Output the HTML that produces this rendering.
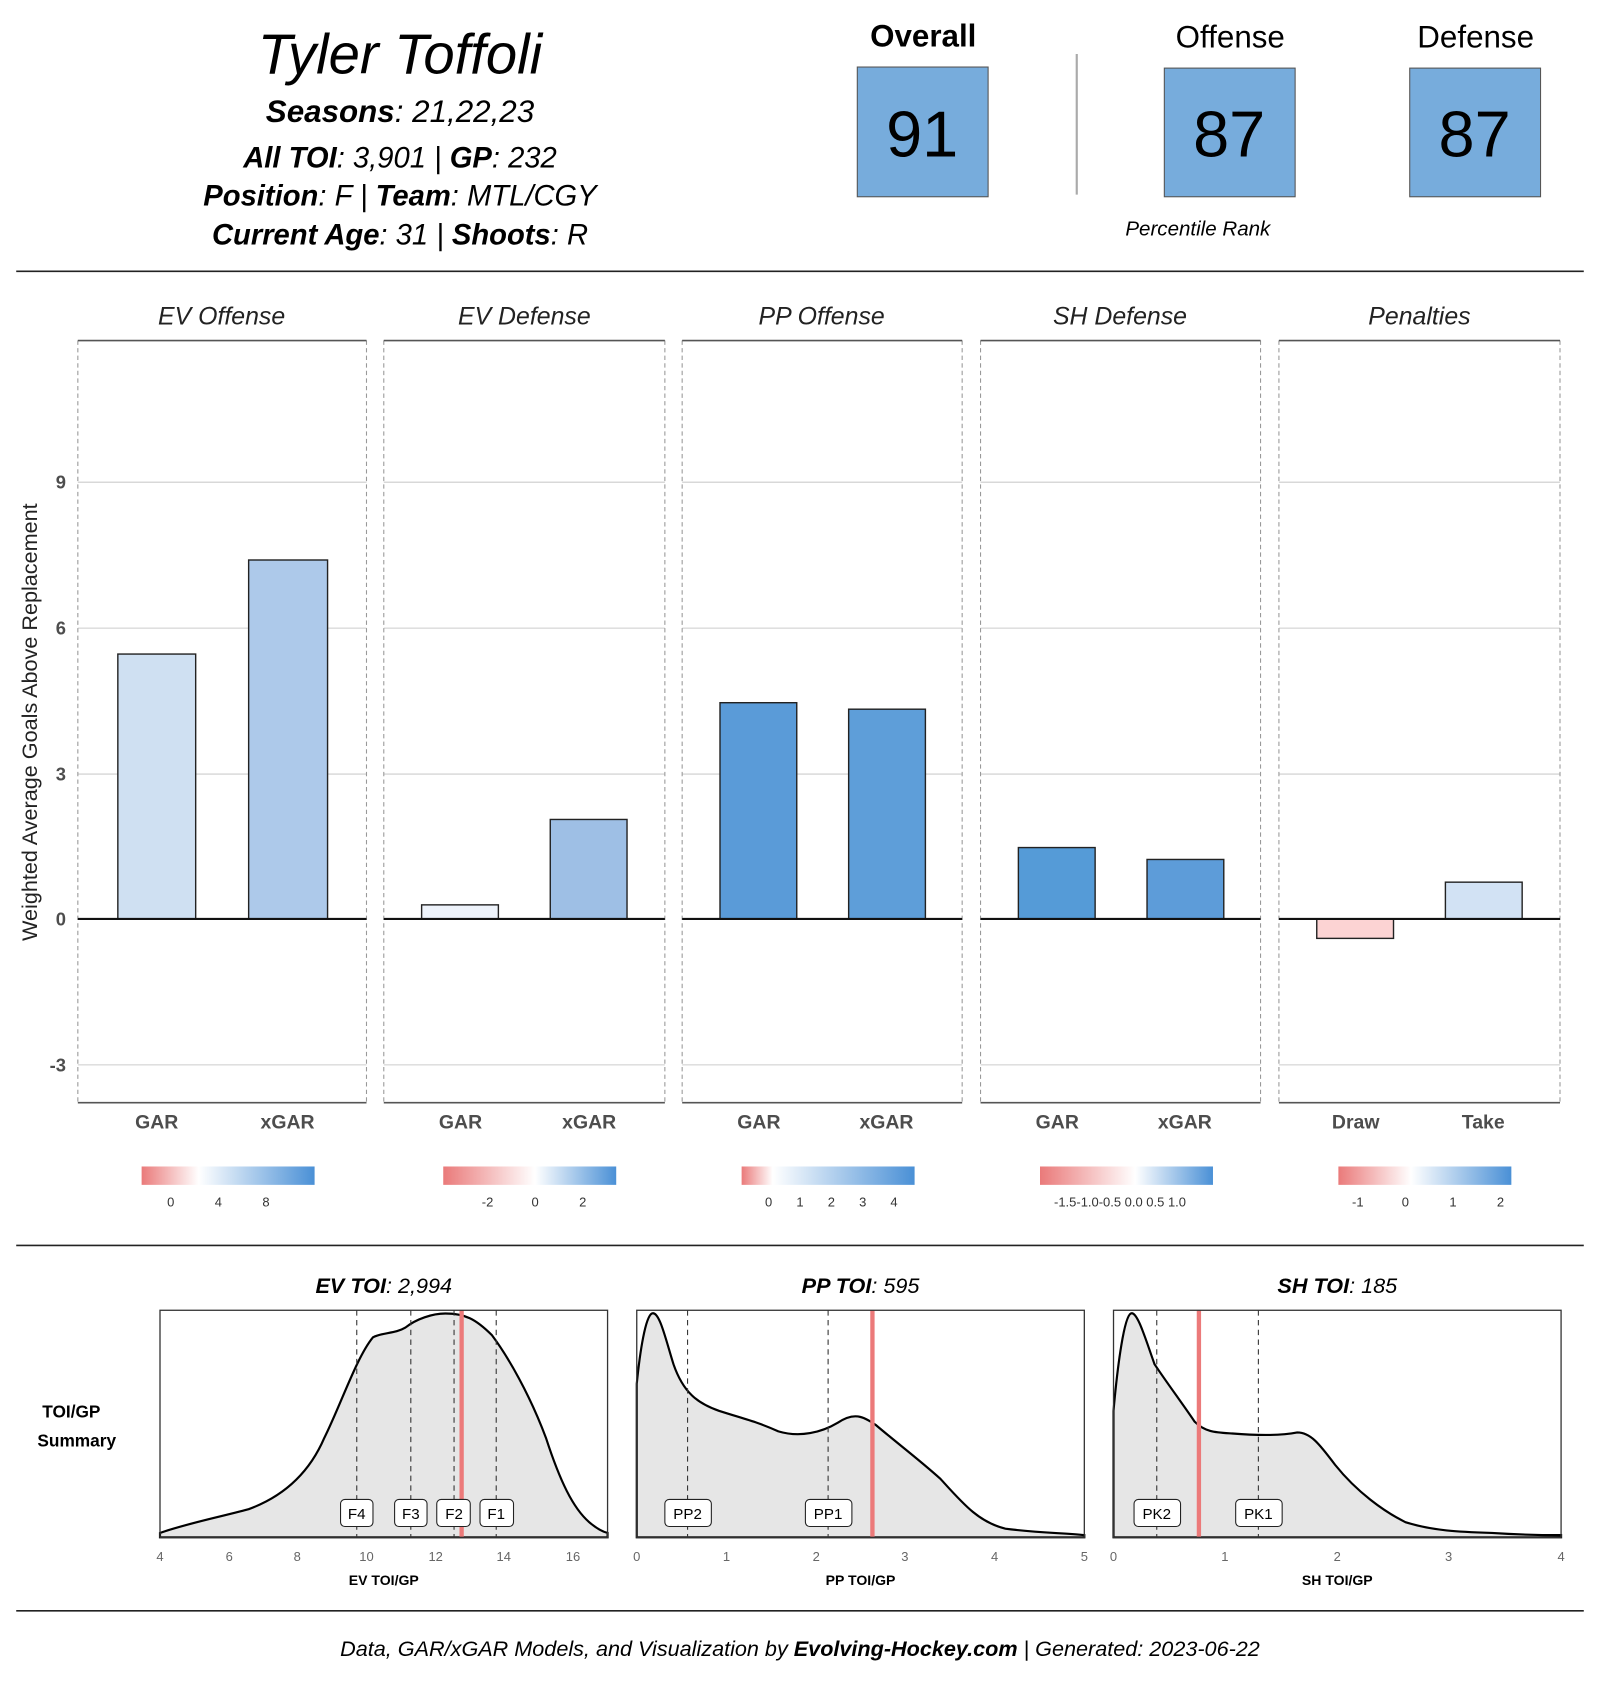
<!DOCTYPE html>
<html><head><meta charset="utf-8"><style>
html,body{margin:0;padding:0;background:#fff;}
svg{display:block;}
text{font-family:"Liberation Sans",sans-serif;}
.t{font-style:italic;}
.b{font-weight:bold;}
.yl{font-size:17px;font-weight:bold;fill:#4d4d4d;text-anchor:end;}
.xl{font-size:18px;font-weight:bold;fill:#4d4d4d;text-anchor:middle;}
.cb{font-size:12px;fill:#333;text-anchor:middle;}
.st{font-size:23px;font-style:italic;text-anchor:middle;fill:#222;}
.dx{font-size:12px;fill:#666;text-anchor:middle;}
.lab{font-size:14px;text-anchor:middle;}
</style></head><body>
<svg width="1600" height="1700" viewBox="0 0 1480 1572.5" xmlns="http://www.w3.org/2000/svg">
<defs>
<linearGradient id="g1"><stop offset="0" stop-color="#ea7a7a"/><stop offset="0.33" stop-color="#fff"/><stop offset="1" stop-color="#4a90d6"/></linearGradient>
<linearGradient id="g2"><stop offset="0" stop-color="#ea7a7a"/><stop offset="0.53" stop-color="#fff"/><stop offset="1" stop-color="#4a90d6"/></linearGradient>
<linearGradient id="g3"><stop offset="0" stop-color="#ea7a7a"/><stop offset="0.18" stop-color="#fff"/><stop offset="1" stop-color="#4a90d6"/></linearGradient>
<linearGradient id="g4"><stop offset="0" stop-color="#ea7a7a"/><stop offset="0.55" stop-color="#fff"/><stop offset="1" stop-color="#4a90d6"/></linearGradient>
<linearGradient id="g5"><stop offset="0" stop-color="#ea7a7a"/><stop offset="0.42" stop-color="#fff"/><stop offset="1" stop-color="#4a90d6"/></linearGradient>
</defs>
<!-- header -->
<text x="370" y="68" class="t" font-size="52" text-anchor="middle">Tyler Toffoli</text>
<text x="370" y="113" font-size="29" text-anchor="middle" class="t"><tspan class="b">Seasons</tspan>: 21,22,23</text>
<text x="370" y="155" font-size="27" text-anchor="middle" class="t"><tspan class="b">All TOI</tspan>: 3,901 | <tspan class="b">GP</tspan>: 232</text>
<text x="370" y="190" font-size="27" text-anchor="middle" class="t"><tspan class="b">Position</tspan>: F | <tspan class="b">Team</tspan>: MTL/CGY</text>
<text x="370" y="226" font-size="27" text-anchor="middle" class="t"><tspan class="b">Current Age</tspan>: 31 | <tspan class="b">Shoots</tspan>: R</text>
<text x="854" y="43" font-size="29" font-weight="bold" text-anchor="middle">Overall</text>
<text x="1138" y="44" font-size="29" text-anchor="middle">Offense</text>
<text x="1365" y="44" font-size="29" text-anchor="middle">Defense</text>
<rect x="793" y="62" width="121" height="120" fill="#77acdc" stroke="#555" stroke-width="1"/>
<rect x="1077" y="63" width="121" height="119" fill="#77acdc" stroke="#555" stroke-width="1"/>
<rect x="1304" y="63" width="121" height="119" fill="#77acdc" stroke="#555" stroke-width="1"/>
<text x="853" y="145" font-size="60" text-anchor="middle">91</text>
<text x="1137" y="145" font-size="60" text-anchor="middle">87</text>
<text x="1364" y="145" font-size="60" text-anchor="middle">87</text>
<line x1="996" y1="50" x2="996" y2="180" stroke="#aaa" stroke-width="2"/>
<text x="1108" y="218" font-size="19" class="t" text-anchor="middle">Percentile Rank</text>
<line x1="15" y1="251" x2="1465" y2="251" stroke="#222" stroke-width="1.5"/>

<!-- panels -->
<g stroke="#ccc" stroke-width="1">
<line x1="72" y1="446" x2="339" y2="446"/><line x1="72" y1="581" x2="339" y2="581"/><line x1="72" y1="716" x2="339" y2="716"/><line x1="72" y1="985" x2="339" y2="985"/>
<line x1="355" y1="446" x2="615" y2="446"/><line x1="355" y1="581" x2="615" y2="581"/><line x1="355" y1="716" x2="615" y2="716"/><line x1="355" y1="985" x2="615" y2="985"/>
<line x1="631" y1="446" x2="890" y2="446"/><line x1="631" y1="581" x2="890" y2="581"/><line x1="631" y1="716" x2="890" y2="716"/><line x1="631" y1="985" x2="890" y2="985"/>
<line x1="907" y1="446" x2="1166" y2="446"/><line x1="907" y1="581" x2="1166" y2="581"/><line x1="907" y1="716" x2="1166" y2="716"/><line x1="907" y1="985" x2="1166" y2="985"/>
<line x1="1183" y1="446" x2="1443" y2="446"/><line x1="1183" y1="581" x2="1443" y2="581"/><line x1="1183" y1="716" x2="1443" y2="716"/><line x1="1183" y1="985" x2="1443" y2="985"/>
</g>
<g stroke="#999" stroke-width="1" stroke-dasharray="4,3">
<line x1="72" y1="315" x2="72" y2="1020"/><line x1="339" y1="315" x2="339" y2="1020"/>
<line x1="355" y1="315" x2="355" y2="1020"/><line x1="615" y1="315" x2="615" y2="1020"/>
<line x1="631" y1="315" x2="631" y2="1020"/><line x1="890" y1="315" x2="890" y2="1020"/>
<line x1="907" y1="315" x2="907" y2="1020"/><line x1="1166" y1="315" x2="1166" y2="1020"/>
<line x1="1183" y1="315" x2="1183" y2="1020"/><line x1="1443" y1="315" x2="1443" y2="1020"/>
</g>
<g stroke="#555" stroke-width="1.5">
<line x1="72" y1="315" x2="339" y2="315"/><line x1="355" y1="315" x2="615" y2="315"/><line x1="631" y1="315" x2="890" y2="315"/><line x1="907" y1="315" x2="1166" y2="315"/><line x1="1183" y1="315" x2="1443" y2="315"/>
<line x1="72" y1="1020" x2="339" y2="1020"/><line x1="355" y1="1020" x2="615" y2="1020"/><line x1="631" y1="1020" x2="890" y2="1020"/><line x1="907" y1="1020" x2="1166" y2="1020"/><line x1="1183" y1="1020" x2="1443" y2="1020"/>
</g>
<text x="205" y="300" class="st">EV Offense</text>
<text x="485" y="300" class="st">EV Defense</text>
<text x="760" y="300" class="st">PP Offense</text>
<text x="1036" y="300" class="st">SH Defense</text>
<text x="1313" y="300" class="st">Penalties</text>
<text x="61" y="452" class="yl">9</text><text x="61" y="587" class="yl">6</text><text x="61" y="722" class="yl">3</text><text x="61" y="856" class="yl">0</text><text x="61" y="991" class="yl">-3</text>
<text transform="translate(34,668) rotate(-90)" font-size="20" text-anchor="middle" fill="#222">Weighted Average Goals Above Replacement</text>
<g stroke="#222" stroke-width="1.3">
<rect x="109" y="605" width="72" height="245" fill="#cfe0f2"/>
<rect x="230" y="518" width="73" height="332" fill="#adc9ea"/>
<rect x="390" y="837" width="71" height="13" fill="#eef3fb"/>
<rect x="509" y="758" width="71" height="92" fill="#9ebfe5"/>
<rect x="666" y="650" width="71" height="200" fill="#5a9bd8"/>
<rect x="785" y="656" width="71" height="194" fill="#5e9ed9"/>
<rect x="942" y="784" width="71" height="66" fill="#559bd7"/>
<rect x="1061" y="795" width="71" height="55" fill="#5d9cd9"/>
<rect x="1218" y="850" width="71" height="18" fill="#fcd3d3"/>
<rect x="1337" y="816" width="71" height="34" fill="#d2e2f4"/>
</g>
<g stroke="#111" stroke-width="2">
<line x1="72" y1="850" x2="339" y2="850"/><line x1="355" y1="850" x2="615" y2="850"/><line x1="631" y1="850" x2="890" y2="850"/><line x1="907" y1="850" x2="1166" y2="850"/><line x1="1183" y1="850" x2="1443" y2="850"/>
</g>
<text x="145" y="1044" class="xl">GAR</text><text x="266" y="1044" class="xl">xGAR</text>
<text x="426" y="1044" class="xl">GAR</text><text x="545" y="1044" class="xl">xGAR</text>
<text x="702" y="1044" class="xl">GAR</text><text x="820" y="1044" class="xl">xGAR</text>
<text x="978" y="1044" class="xl">GAR</text><text x="1096" y="1044" class="xl">xGAR</text>
<text x="1254" y="1044" class="xl">Draw</text><text x="1372" y="1044" class="xl">Take</text>
<rect x="131" y="1079" width="160" height="17" fill="url(#g1)"/>
<rect x="410" y="1079" width="160" height="17" fill="url(#g2)"/>
<rect x="686" y="1079" width="160" height="17" fill="url(#g3)"/>
<rect x="962" y="1079" width="160" height="17" fill="url(#g4)"/>
<rect x="1238" y="1079" width="160" height="17" fill="url(#g5)"/>
<text x="158" y="1116" class="cb">0</text><text x="202" y="1116" class="cb">4</text><text x="246" y="1116" class="cb">8</text>
<text x="451" y="1116" class="cb">-2</text><text x="495" y="1116" class="cb">0</text><text x="539" y="1116" class="cb">2</text>
<text x="711" y="1116" class="cb">0</text><text x="740" y="1116" class="cb">1</text><text x="769" y="1116" class="cb">2</text><text x="798" y="1116" class="cb">3</text><text x="827" y="1116" class="cb">4</text>
<text x="1036" y="1116" class="cb">-1.5-1.0-0.5 0.0 0.5 1.0</text>
<text x="1256" y="1116" class="cb">-1</text><text x="1300" y="1116" class="cb">0</text><text x="1344" y="1116" class="cb">1</text><text x="1388" y="1116" class="cb">2</text>
<line x1="15" y1="1152" x2="1465" y2="1152" stroke="#222" stroke-width="1.5"/>

<!-- density -->
<text x="355" y="1196" font-size="20" class="t" text-anchor="middle"><tspan class="b">EV TOI</tspan>: 2,994</text>
<text x="796" y="1196" font-size="20" class="t" text-anchor="middle"><tspan class="b">PP TOI</tspan>: 595</text>
<text x="1237" y="1196" font-size="20" class="t" text-anchor="middle"><tspan class="b">SH TOI</tspan>: 185</text>
<text x="66" y="1311" font-size="16" font-weight="bold" text-anchor="middle">TOI/GP</text>
<text x="71" y="1338" font-size="16" font-weight="bold" text-anchor="middle">Summary</text>
<path d="M148,1418 C170,1410 200,1404 230,1396 C260,1385 285,1365 300,1330 C315,1300 330,1255 345,1237 C355,1232 365,1234 375,1228 C385,1220 400,1215 412,1215 C430,1215 440,1220 455,1235 C470,1255 490,1290 505,1330 C518,1370 530,1395 545,1408 C552,1414 558,1417 562,1418 L562,1422 L148,1422 Z" fill="#e6e6e6" stroke="#000" stroke-width="2"/>
<path d="M589,1280 C592,1250 597,1218 603,1215 C610,1212 616,1240 623,1262 C632,1288 645,1298 665,1305 C690,1313 700,1315 720,1324 C740,1330 760,1325 775,1316 C790,1306 798,1310 810,1318 C830,1335 850,1350 870,1368 C890,1390 905,1408 930,1414 C960,1418 985,1418 1003,1420 L1003,1422 L589,1422 Z" fill="#e6e6e6" stroke="#000" stroke-width="2"/>
<path d="M1030,1305 C1034,1260 1040,1218 1046,1215 C1052,1212 1060,1240 1068,1262 C1080,1280 1095,1300 1105,1315 C1115,1325 1125,1325 1140,1326 C1165,1328 1185,1328 1200,1325 C1212,1325 1220,1335 1235,1355 C1255,1380 1280,1398 1300,1408 C1325,1416 1350,1417 1380,1418 C1410,1420 1430,1420 1444,1420 L1444,1422 L1030,1422 Z" fill="#e6e6e6" stroke="#000" stroke-width="2"/>
<g stroke="#333" stroke-width="1" stroke-dasharray="5,4">
<line x1="330" y1="1212" x2="330" y2="1422"/><line x1="380" y1="1212" x2="380" y2="1422"/><line x1="420" y1="1212" x2="420" y2="1422"/><line x1="459" y1="1212" x2="459" y2="1422"/>
<line x1="636" y1="1212" x2="636" y2="1422"/><line x1="766" y1="1212" x2="766" y2="1422"/>
<line x1="1070" y1="1212" x2="1070" y2="1422"/><line x1="1164" y1="1212" x2="1164" y2="1422"/>
</g>
<g stroke="#ec7a7a" stroke-width="4">
<line x1="427" y1="1212" x2="427" y2="1422"/><line x1="807" y1="1212" x2="807" y2="1422"/><line x1="1109" y1="1212" x2="1109" y2="1422"/>
</g>
<g fill="none" stroke="#333" stroke-width="1.2">
<rect x="148" y="1212" width="414" height="210"/><rect x="589" y="1212" width="414" height="210"/><rect x="1030" y="1212" width="414" height="210"/>
</g>
<g fill="#fff" stroke="#222" stroke-width="1">
<rect x="315" y="1387" width="30" height="25" rx="4"/><rect x="365" y="1387" width="30" height="25" rx="4"/><rect x="404" y="1387" width="31" height="25" rx="4"/><rect x="444" y="1387" width="31" height="25" rx="4"/>
<rect x="615" y="1387" width="43" height="25" rx="4"/><rect x="745" y="1387" width="43" height="25" rx="4"/>
<rect x="1049" y="1387" width="43" height="25" rx="4"/><rect x="1143" y="1387" width="43" height="25" rx="4"/>
</g>
<text x="330" y="1405" class="lab">F4</text><text x="380" y="1405" class="lab">F3</text><text x="420" y="1405" class="lab">F2</text><text x="459" y="1405" class="lab">F1</text>
<text x="636" y="1405" class="lab">PP2</text><text x="766" y="1405" class="lab">PP1</text>
<text x="1070" y="1405" class="lab">PK2</text><text x="1164" y="1405" class="lab">PK1</text>
<text x="148" y="1444" class="dx">4</text><text x="212" y="1444" class="dx">6</text><text x="275" y="1444" class="dx">8</text><text x="339" y="1444" class="dx">10</text><text x="403" y="1444" class="dx">12</text><text x="466" y="1444" class="dx">14</text><text x="530" y="1444" class="dx">16</text>
<text x="589" y="1444" class="dx">0</text><text x="672" y="1444" class="dx">1</text><text x="755" y="1444" class="dx">2</text><text x="837" y="1444" class="dx">3</text><text x="920" y="1444" class="dx">4</text><text x="1003" y="1444" class="dx">5</text>
<text x="1030" y="1444" class="dx">0</text><text x="1133" y="1444" class="dx">1</text><text x="1237" y="1444" class="dx">2</text><text x="1340" y="1444" class="dx">3</text><text x="1444" y="1444" class="dx">4</text>
<text x="355" y="1466" font-size="13" font-weight="bold" text-anchor="middle">EV TOI/GP</text>
<text x="796" y="1466" font-size="13" font-weight="bold" text-anchor="middle">PP TOI/GP</text>
<text x="1237" y="1466" font-size="13" font-weight="bold" text-anchor="middle">SH TOI/GP</text>
<line x1="15" y1="1490" x2="1465" y2="1490" stroke="#222" stroke-width="1.5"/>
<text x="740" y="1532" font-size="20" class="t" text-anchor="middle">Data, GAR/xGAR Models, and Visualization by <tspan class="b">Evolving-Hockey.com</tspan> | Generated: 2023-06-22</text>
</svg>
</body></html>
